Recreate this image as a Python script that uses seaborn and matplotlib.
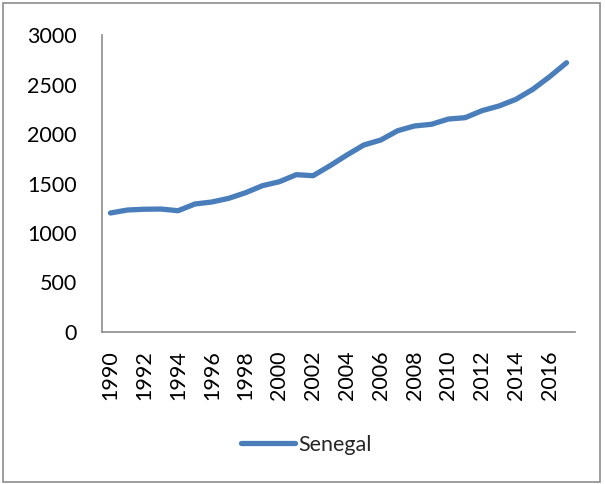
import matplotlib
matplotlib.use("Agg")
import matplotlib.pyplot as plt
import seaborn as sns
import pandas as pd
from matplotlib.patches import Rectangle

years = list(range(1990, 2018))
senegal = [1202, 1232, 1240, 1242, 1225, 1293, 1313, 1350, 1407, 1478,
           1518, 1589, 1579, 1680, 1788, 1889, 1939, 2033, 2081, 2098,
           2151, 2165, 2236, 2283, 2350, 2451, 2579, 2720]
y_ticks = [0, 500, 1000, 1500, 2000, 2500, 3000]
x_tick_years = list(range(1990, 2017, 2))

df = pd.DataFrame({"Year": years, "Senegal": senegal})

sns.set_theme(style="white")
plt.rcParams["font.family"] = ["Lato", "DejaVu Sans"]

fig = plt.figure(figsize=(6.05, 4.84), dpi=100)
ax = fig.add_axes([102 / 605, 1 - 332 / 484, (575 - 102) / 605, (332 - 35) / 484])

sns.lineplot(data=df, x="Year", y="Senegal", ax=ax, color="#4a7ebb",
             linewidth=3.8, label="Senegal", legend=False,
             solid_capstyle="round", solid_joinstyle="round")

ax.set_xlim(1989.5, 2017.5)
ax.set_ylim(0, 3000)
ax.set_yticks(y_ticks)
ax.set_yticklabels([str(v) for v in y_ticks], fontsize=15.5)
ax.set_xticks(x_tick_years)
ax.set_xticklabels([str(v) for v in x_tick_years], rotation=90, fontsize=15.5)
ax.tick_params(axis="y", length=0, pad=18, colors="black")
ax.tick_params(axis="x", length=0, pad=13, colors="black")
ax.set_xlabel("")
ax.set_ylabel("")

for side in ["top", "right"]:
    ax.spines[side].set_visible(False)
for side in ["left", "bottom"]:
    ax.spines[side].set_color("#8c8c8c")
    ax.spines[side].set_linewidth(1.2)

handles, labels = ax.get_legend_handles_labels()
fig.legend(handles, labels, loc="center", bbox_to_anchor=(306 / 605, 1 - 445 / 484),
           frameon=False, fontsize=15.5, handlelength=2.5, handletextpad=0.15)

fig.patches.append(Rectangle((3 / 605, 2 / 484), 597 / 605, 479 / 484,
                             transform=fig.transFigure, fill=False,
                             edgecolor="#8c8c8c", linewidth=1.2))

fig.savefig("out.png", dpi=100)
